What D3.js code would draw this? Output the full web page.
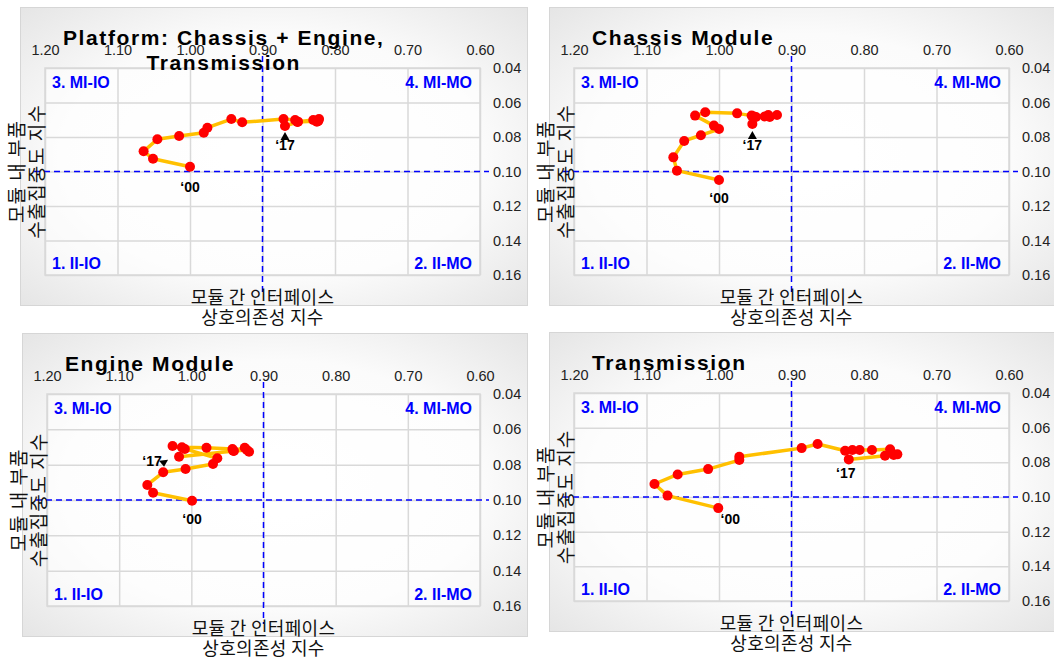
<!DOCTYPE html>
<html>
<head>
<meta charset="utf-8">
<script src="https://cdn.jsdelivr.net/npm/d3@7"></script>
<style>
  body { margin: 0; background: #fff; }
  svg { display: block; font-family: "Liberation Sans", Arial, sans-serif; }
  .kr { font-family: "Noto Sans CJK KR", sans-serif; }
</style>
</head>
<body>
<div id="chart"></div>
<script>
// years 2000 - 2017
var years = [2000, 2001, 2002, 2003, 2004, 2005, 2006, 2007, 2008, 2009, 2010, 2011, 2012, 2013, 2014, 2015, 2016, 2017];

// x = 모듈 간 인터페이스 상호의존성 지수, y = 모듈 내 부품 수출집중도 지수
var platformX = [1.000, 1.051, 1.064, 1.045, 1.015, 0.981, 0.976, 0.943, 0.928, 0.871, 0.855, 0.851, 0.830, 0.822, 0.825, 0.823, 0.852, 0.869];
var platformY = [0.0972, 0.0926, 0.0883, 0.0813, 0.0794, 0.0775, 0.0746, 0.0696, 0.0715, 0.0696, 0.0701, 0.0711, 0.0701, 0.0696, 0.0711, 0.0707, 0.0713, 0.0736];

var chassisX = [1.000, 1.058, 1.063, 1.048, 1.025, 1.000, 1.007, 1.033, 1.019, 0.975, 0.955, 0.952, 0.932, 0.920, 0.930, 0.937, 0.949, 0.954];
var chassisY = [0.1049, 0.0995, 0.0918, 0.0823, 0.0790, 0.0754, 0.0734, 0.0676, 0.0657, 0.0663, 0.0676, 0.0681, 0.0672, 0.0672, 0.0684, 0.0681, 0.0684, 0.0725];

var engineX = [0.999, 1.053, 1.061, 1.039, 1.008, 0.970, 0.964, 1.009, 1.026, 1.013, 0.979, 0.943, 0.942, 0.926, 0.920, 0.923, 0.941, 1.017];
var engineY = [0.1004, 0.0959, 0.0915, 0.0843, 0.0825, 0.0796, 0.0764, 0.0711, 0.0694, 0.0702, 0.0704, 0.0711, 0.0721, 0.0704, 0.0727, 0.0717, 0.0723, 0.0755];

var transX = [1.001, 1.071, 1.089, 1.057, 1.015, 0.972, 0.972, 0.886, 0.864, 0.826, 0.816, 0.806, 0.789, 0.764, 0.754, 0.759, 0.771, 0.821];
var transY = [0.1064, 0.0992, 0.0925, 0.0870, 0.0839, 0.0787, 0.0768, 0.0718, 0.0694, 0.0733, 0.0729, 0.0729, 0.0729, 0.0725, 0.0754, 0.0758, 0.0762, 0.0783];

var xTicks = [1.20, 1.10, 1.00, 0.90, 0.80, 0.70, 0.60];
var yTicks = [0.04, 0.06, 0.08, 0.10, 0.12, 0.14, 0.16];
var xCut = 0.90, yCut = 0.10;

var quadLabels = ["3. MI-IO", "4. MI-MO", "1. II-IO", "2. II-MO"];
var xTitle = ["모듈 간 인터페이스", "상호의존성 지수"];
var yTitle = ["모듈 내 부품", "수출집중도 지수"];

var panels = [
  { title: ["Platform: Chassis + Engine,", "Transmission"], xs: platformX, ys: platformY,
    box: { x: 45, y: 68, w: 435, h: 207 },
    lab00: [0, 25], lab17: [0, 24], arrow17: [0, 6, "up"] },
  { title: ["Chassis Module"], xs: chassisX, ys: chassisY,
    box: { x: 574, y: 68, w: 435, h: 207 },
    lab00: [0, 23], lab17: [0, 26], arrow17: [0, 7, "up"] },
  { title: ["Engine Module"], xs: engineX, ys: engineY,
    box: { x: 47, y: 394, w: 433, h: 212 },
    lab00: [0, 23], lab17: [-27, 9], arrow17: [-11, 3, "ur"] },
  { title: ["Transmission"], xs: transX, ys: transY,
    box: { x: 574, y: 393, w: 435, h: 208 },
    lab00: [12, 16], lab17: [-3, 19], arrow17: null }
];

var svgWidth = 1054;
var svgHeight = 658;

var svg = d3.select("#chart")
  .append("svg")
  .attr("width", svgWidth)
  .attr("height", svgHeight);

var defs = svg.append("defs");
var grad = defs.append("radialGradient")
  .attr("id", "panelBg")
  .attr("cx", "50%").attr("cy", "50%").attr("r", "75%");
grad.append("stop").attr("offset", "0%").attr("stop-color", "#ffffff");
grad.append("stop").attr("offset", "55%").attr("stop-color", "#fbfbfb");
grad.append("stop").attr("offset", "100%").attr("stop-color", "#e2e2e2");

panels.forEach(function(p) {
  var b = p.box;
  var g = svg.append("g");

  // panel frame
  g.append("rect")
    .attr("x", b.x - 24.5)
    .attr("y", b.y - 60.5)
    .attr("width", b.w + 72)
    .attr("height", b.h + 91)
    .attr("fill", "url(#panelBg)")
    .attr("stroke", "#d6d6d6")
    .attr("stroke-width", 1);

  var x = d3.scaleLinear().domain([1.2, 0.6]).range([b.x, b.x + b.w]);
  var y = d3.scaleLinear().domain([0.04, 0.16]).range([b.y, b.y + b.h]);

  // plot area
  g.append("rect")
    .attr("x", b.x).attr("y", b.y)
    .attr("width", b.w).attr("height", b.h)
    .attr("fill", "rgba(255,255,255,0.55)")
    .attr("stroke", "#d9d9d9")
    .attr("stroke-width", 1.5);

  // grid
  var xAxis = d3.axisTop(x).tickValues(xTicks).tickFormat(d3.format(".2f"))
    .tickSize(-b.h).tickPadding(11);
  var yAxis = d3.axisRight(y).tickValues(yTicks).tickFormat(d3.format(".2f"))
    .tickSize(-b.w).tickPadding(13);

  var gx = g.append("g")
    .attr("transform", "translate(0," + b.y + ")")
    .call(xAxis);
  var gy = g.append("g")
    .attr("transform", "translate(" + (b.x + b.w) + ",0)")
    .call(yAxis);

  [gx, gy].forEach(function(ax) {
    ax.select(".domain").remove();
    ax.selectAll(".tick line").attr("stroke", "#d9d9d9").attr("stroke-width", 1.5);
    ax.selectAll(".tick text")
      .attr("fill", "#222")
      .style("font-size", "14.5px")
      .style("font-family", "'Liberation Sans', Arial, sans-serif");
  });
  gx.selectAll(".tick text").attr("dy", "0.32em").attr("y", -18);

  // quadrant dividers
  g.append("line")
    .attr("x1", x(xCut)).attr("x2", x(xCut))
    .attr("y1", b.y - 12).attr("y2", b.y + b.h + 18)
    .attr("stroke", "#0000ff").attr("stroke-width", 1.5)
    .attr("stroke-dasharray", "6,4");
  g.append("line")
    .attr("x1", b.x - 11).attr("x2", b.x + b.w + 9)
    .attr("y1", y(yCut)).attr("y2", y(yCut))
    .attr("stroke", "#0000ff").attr("stroke-width", 1.5)
    .attr("stroke-dasharray", "6,4");

  // quadrant labels
  var ql = [
    { t: quadLabels[0], x: b.x + 7, y: b.y + 20, a: "start" },
    { t: quadLabels[1], x: b.x + b.w - 8, y: b.y + 20, a: "end" },
    { t: quadLabels[2], x: b.x + 7, y: b.y + b.h - 6, a: "start" },
    { t: quadLabels[3], x: b.x + b.w - 8, y: b.y + b.h - 6, a: "end" }
  ];
  g.selectAll(".quad")
    .data(ql)
    .enter()
    .append("text")
    .attr("x", d => d.x)
    .attr("y", d => d.y)
    .attr("text-anchor", d => d.a)
    .attr("fill", "#0000ff")
    .style("font-size", "16px")
    .style("font-weight", "bold")
    .text(d => d.t);

  // series
  var pts = years.map(function(yr, i) { return { yr: yr, x: p.xs[i], y: p.ys[i] }; });
  var line = d3.line().x(d => x(d.x)).y(d => y(d.y));
  g.append("path")
    .datum(pts)
    .attr("d", line)
    .attr("fill", "none")
    .attr("stroke", "#ffc000")
    .attr("stroke-width", 3.5)
    .attr("stroke-linejoin", "round");

  g.selectAll(".pt")
    .data(pts)
    .enter()
    .append("circle")
    .attr("cx", d => x(d.x))
    .attr("cy", d => y(d.y))
    .attr("r", 5)
    .attr("fill", "#ff0000");

  // year labels
  var first = pts[0], last = pts[pts.length - 1];
  g.append("text")
    .attr("x", x(first.x) + p.lab00[0])
    .attr("y", y(first.y) + p.lab00[1])
    .attr("text-anchor", "middle")
    .style("font-size", "14px")
    .style("font-weight", "bold")
    .text("\u2018" + String(first.yr).slice(2));
  g.append("text")
    .attr("x", x(last.x) + p.lab17[0])
    .attr("y", y(last.y) + p.lab17[1])
    .attr("text-anchor", "middle")
    .style("font-size", "14px")
    .style("font-weight", "bold")
    .text("\u2018" + String(last.yr).slice(2));

  if (p.arrow17) {
    var ax0 = x(last.x) + p.arrow17[0], ay0 = y(last.y) + p.arrow17[1];
    var tri = p.arrow17[2] === "up"
      ? [[ax0, ay0], [ax0 - 4.5, ay0 + 8], [ax0 + 4.5, ay0 + 8]]
      : [[ax0, ay0], [ax0 - 9, ay0 + 1], [ax0 - 4, ay0 + 7]];
    g.append("path")
      .attr("d", "M" + tri.join("L") + "Z")
      .attr("fill", "#000");
  }

  // axis titles
  var xt = g.append("text")
    .attr("class", "kr")
    .attr("text-anchor", "middle")
    .style("font-size", "18px")
    .style("letter-spacing", "0.3px")
    .attr("fill", "#111");
  xt.selectAll("tspan")
    .data(xTitle)
    .enter()
    .append("tspan")
    .attr("x", b.x + b.w / 2)
    .attr("y", (d, i) => b.y + b.h + 29 + i * 20)
    .text(d => d);

  var yt = g.append("text")
    .attr("class", "kr")
    .attr("text-anchor", "middle")
    .attr("transform", "translate(" + (b.x - 28) + "," + (b.y + b.h / 2) + ") rotate(-90)")
    .style("font-size", "19px")
    .style("letter-spacing", "1px")
    .attr("fill", "#111");
  yt.selectAll("tspan")
    .data(yTitle)
    .enter()
    .append("tspan")
    .attr("x", 0)
    .attr("y", (d, i) => 7 + i * 20)
    .text(d => d);

  // title
  var tt = g.append("text")
    .attr("text-anchor", "middle")
    .style("font-size", "21px")
    .style("font-weight", "bold")
    .style("letter-spacing", "1.6px")
    .attr("fill", "#000");
  var spans = tt.selectAll("tspan")
    .data(p.title)
    .enter()
    .append("tspan")
    .attr("y", (d, i) => b.y - 23 + i * 25)
    .text(d => d);
  var w0 = spans.node().getComputedTextLength();
  spans.attr("x", b.x + 18 + w0 / 2);
});
</script>
</body>
</html>
